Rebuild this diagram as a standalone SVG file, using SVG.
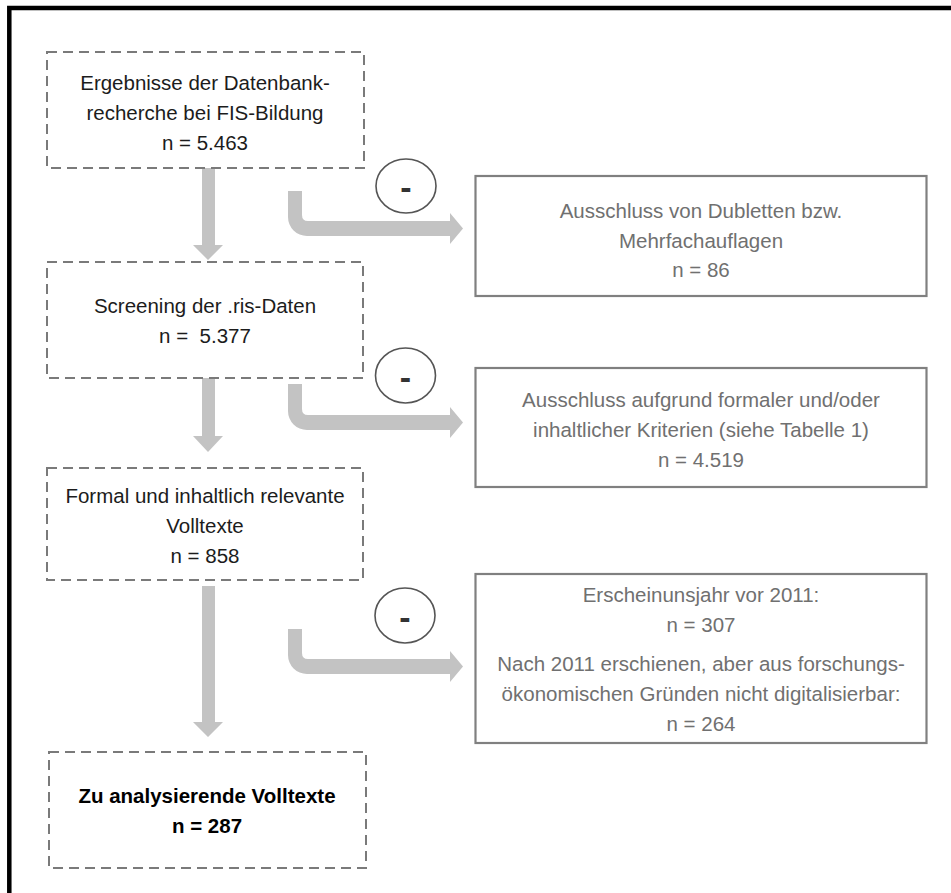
<svg xmlns="http://www.w3.org/2000/svg" width="951" height="893" viewBox="0 0 951 893">
<style>
.frame{fill:none;stroke:#000;stroke-width:4.5}
.dbox{fill:none;stroke:#7a7a7a;stroke-width:2;stroke-dasharray:10 6}
.sbox{fill:none;stroke:#808080;stroke-width:2.2}
.t{font-family:"Liberation Sans",Arial,Helvetica,sans-serif;font-size:20.5px;text-anchor:middle;fill:#1c1c1c}
.g{fill:#707070}
.b{font-weight:bold;fill:#000}
.arr{fill:#c3c3c3}
.circ{fill:none;stroke:#555;stroke-width:1.6}
.minus{font-family:"Liberation Sans",Arial,Helvetica,sans-serif;font-size:34px;font-weight:bold;text-anchor:middle;fill:#333}
</style>
<rect width="951" height="893" fill="#fff"/>
<rect class="frame" x="9.3" y="8" width="980" height="920"/>

<g id="connectors">
  <path class="arr" d="M202,168 H215 V245 H223 L208,260 L193,245 H202 Z"/>
  <path class="arr" d="M202,378 H215 V436 H223 L208,452 L193,436 H202 Z"/>
  <path class="arr" d="M202,586 H215 V722 H223 L208,737 L193,722 H202 Z"/>
  <path class="arr" d="M288,191 H302 V215 Q302,221 308,221 H450 V213 L463,228.5 L450,244 V236 H307 A19,19 0 0 1 288,217 Z"/>
  <path class="arr" d="M288,384 H302 V409 Q302,415 308,415 H450 V407 L463,422.5 L450,438 V430 H307 A19,19 0 0 1 288,411 Z"/>
  <path class="arr" d="M288,629 H302 V653 Q302,659 308,659 H450 V651 L463,666.5 L450,682 V674 H307 A19,19 0 0 1 288,655 Z"/>
  <g id="minus1"><ellipse class="circ" cx="406" cy="186" rx="30" ry="27"/><text class="minus" x="406" y="199">-</text></g>
  <g id="minus2"><ellipse class="circ" cx="405.5" cy="375.5" rx="30" ry="27.5"/><text class="minus" x="405.5" y="388.5">-</text></g>
  <g id="minus3"><ellipse class="circ" cx="405" cy="615.5" rx="30" ry="27.5"/><text class="minus" x="405" y="628.5">-</text></g>
</g>

<g id="n1">
  <rect class="dbox" x="47" y="52" width="317" height="116"/>
  <text class="t" x="205" y="90">Ergebnisse der Datenbank-</text>
  <text class="t" x="205" y="120">recherche bei FIS-Bildung</text>
  <text class="t" x="205" y="150">n = 5.463</text>
</g>
<g id="n2">
  <rect class="dbox" x="47" y="262" width="316" height="116"/>
  <text class="t" x="205" y="313">Screening der .ris-Daten</text>
  <text class="t" x="205" y="343" xml:space="preserve">n =  5.377</text>
</g>
<g id="n3">
  <rect class="dbox" x="47" y="468" width="316" height="112"/>
  <text class="t" x="205" y="503">Formal und inhaltlich relevante</text>
  <text class="t" x="205" y="533">Volltexte</text>
  <text class="t" x="205" y="563">n = 858</text>
</g>
<g id="n4">
  <rect class="dbox" x="49" y="752" width="317" height="116"/>
  <text class="t b" x="207" y="803">Zu analysierende Volltexte</text>
  <text class="t b" x="207" y="833">n = 287</text>
</g>
<g id="x1">
  <rect class="sbox" x="475.5" y="176" width="451" height="120"/>
  <text class="t g" x="701" y="218">Ausschluss von Dubletten bzw.</text>
  <text class="t g" x="701" y="247.5">Mehrfachauflagen</text>
  <text class="t g" x="701" y="277">n = 86</text>
</g>
<g id="x2">
  <rect class="sbox" x="475.5" y="368" width="451" height="119"/>
  <text class="t g" x="701" y="407">Ausschluss aufgrund formaler und/oder</text>
  <text class="t g" x="701" y="437">inhaltlicher Kriterien (siehe Tabelle 1)</text>
  <text class="t g" x="701" y="467">n = 4.519</text>
</g>
<g id="x3">
  <rect class="sbox" x="475.5" y="574" width="451" height="169"/>
  <text class="t g" x="701" y="602">Erscheinunsjahr vor 2011:</text>
  <text class="t g" x="701" y="632">n = 307</text>
  <text class="t g" x="701" y="671">Nach 2011 erschienen, aber aus forschungs-</text>
  <text class="t g" x="701" y="701">ökonomischen Gründen nicht digitalisierbar:</text>
  <text class="t g" x="701" y="731">n = 264</text>
</g>
</svg>
